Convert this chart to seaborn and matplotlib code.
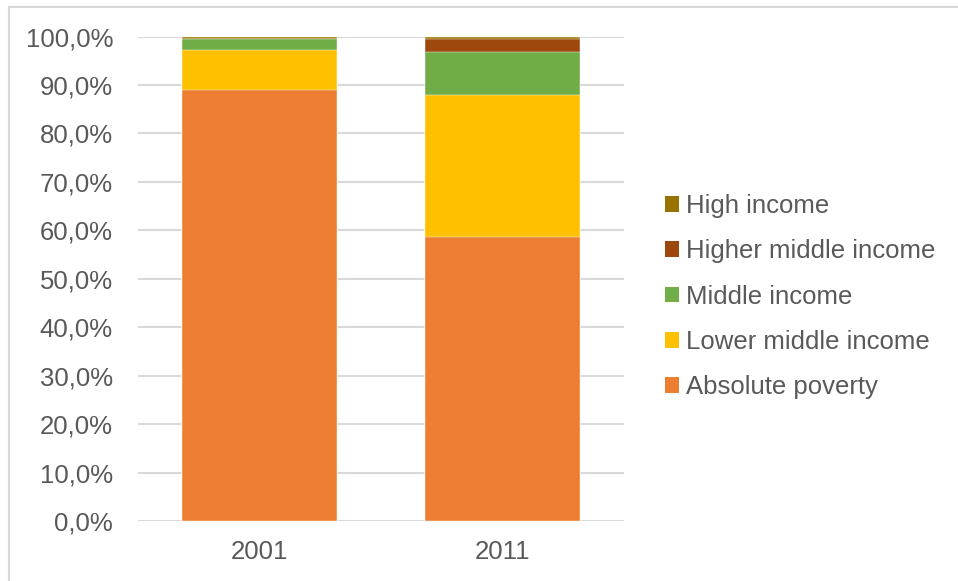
import matplotlib
matplotlib.use("Agg")
import matplotlib.pyplot as plt
from matplotlib.patches import Rectangle, Patch
from matplotlib.ticker import FuncFormatter
import seaborn as sns
import pandas as pd
import numpy as np

years = ["2001", "2011"]
absolute_poverty = [89.0, 58.7]
lower_middle_income = [8.3, 29.3]
middle_income = [2.1, 8.9]
higher_middle_income = [0.1, 2.6]
high_income = [0.5, 0.5]

groups = ["Absolute poverty", "Lower middle income", "Middle income",
          "Higher middle income", "High income"]
colors = ["#ED7D31", "#FFC000", "#70AD47", "#9E480E", "#997300"]

shares = pd.DataFrame({
    "year": years,
    "Absolute poverty": absolute_poverty,
    "Lower middle income": lower_middle_income,
    "Middle income": middle_income,
    "Higher middle income": higher_middle_income,
    "High income": high_income,
})
# cumulative tops, as fractions, for stacking
tops = shares[groups].cumsum(axis=1) / 100.0
tops["year"] = shares["year"]

sns.set_style("white")
plt.rcParams["font.family"] = ["Liberation Sans", "DejaVu Sans"]
text_color = "#595959"
fs = 18.5

fig = plt.figure(figsize=(9.58, 5.81), dpi=100)
ax = fig.add_axes([138 / 958, 60 / 581, 486 / 958, 484.5 / 581])

# draw from the highest cumulative layer down so each segment shows
for grp, col in reversed(list(zip(groups, colors))):
    sns.barplot(data=tops, x="year", y=grp, color=col, width=0.635,
                saturation=1, edgecolor="white", linewidth=0.3,
                ax=ax, zorder=3)
for p in ax.patches:
    p.set_clip_on(False)

ax.set_ylim(0, 1)
ax.set_xlim(-0.5, 1.5)
ax.set_yticks(np.arange(0, 1.01, 0.1))
ax.yaxis.set_major_formatter(FuncFormatter(lambda v, p: f"{v*100:.1f}%".replace(".", ",")))
ax.grid(axis="y", color="#D9D9D9", linewidth=1.5, zorder=0)
ax.set_axisbelow(True)
for s in ax.spines.values():
    s.set_visible(False)
ax.set_xlabel("")
ax.set_ylabel("")
ax.tick_params(axis="y", length=0, pad=18, labelsize=fs, labelcolor=text_color)
ax.tick_params(axis="x", length=0, pad=14, labelsize=fs, labelcolor=text_color)

handles = [Patch(facecolor=c, edgecolor="none") for c in colors][::-1]
labels = groups[::-1]
fig.legend(handles, labels, loc="upper left",
           bbox_to_anchor=(665 / 958, 1 - 194 / 581),
           frameon=False, fontsize=fs, labelcolor=text_color,
           handlelength=0.55, handleheight=0.55, handletextpad=0.25,
           labelspacing=0.83, borderpad=0, borderaxespad=0)

# chart-area outline
fig.patches.append(Rectangle((9 / 958, -0.2), 1.2, 1.2 - 7 / 581,
                             transform=fig.transFigure, fill=False,
                             edgecolor="#D9D9D9", linewidth=1.5))

fig.savefig("out.png", dpi=100)
